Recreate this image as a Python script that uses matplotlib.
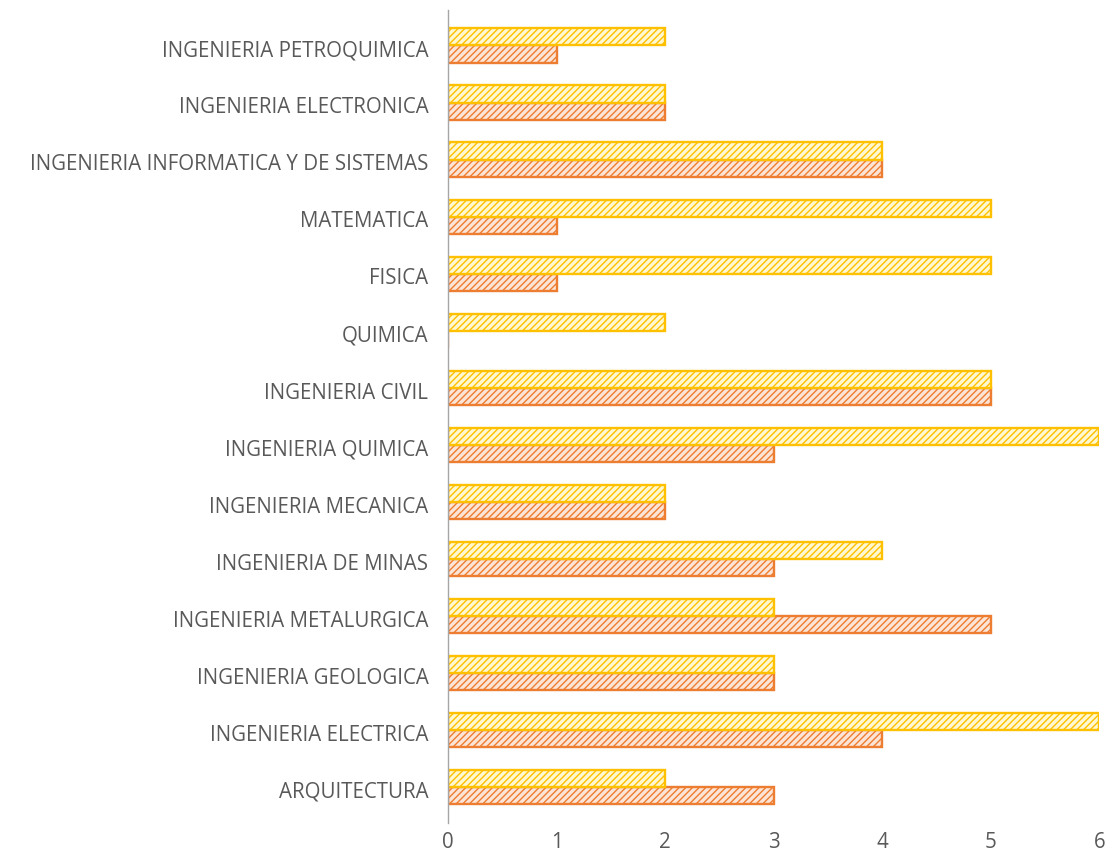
import matplotlib.pyplot as plt
import numpy as np

plt.rcParams['font.family'] = ['Open Sans', 'DejaVu Sans']

# carreras, de abajo hacia arriba
carreras = [
    "ARQUITECTURA",
    "INGENIERIA ELECTRICA",
    "INGENIERIA GEOLOGICA",
    "INGENIERIA METALURGICA",
    "INGENIERIA DE MINAS",
    "INGENIERIA MECANICA",
    "INGENIERIA QUIMICA",
    "INGENIERIA CIVIL",
    "QUIMICA",
    "FISICA",
    "MATEMATICA",
    "INGENIERIA INFORMATICA Y DE SISTEMAS",
    "INGENIERIA ELECTRONICA",
    "INGENIERIA PETROQUIMICA",
]
serie_amarilla = [2, 6, 3, 3, 4, 2, 6, 5, 2, 5, 5, 4, 2, 2]
serie_naranja = [3, 4, 3, 5, 3, 2, 3, 5, 0, 1, 1, 4, 2, 1]

GRIS = "#595959"

fig = plt.figure(figsize=(11.06, 8.54), dpi=100)
ax = fig.add_axes([0.405, 0.035, 0.589, 0.952])

y = np.arange(len(carreras))
h = 0.3

ax.barh(y - h / 2 + 0.03, serie_naranja, height=h, color="#FCE4D6",
        edgecolor="#ED7D31", hatch="/////", linewidth=1.7)
ax.barh(y + h / 2 + 0.03, serie_amarilla, height=h, color="#FFF8D0",
        edgecolor="#FFC000", hatch="/////", linewidth=1.7)

ax.set_xlim(0, 6)
ax.set_ylim(-0.6, len(carreras) - 0.35)
ax.set_xticks(range(7))
ax.set_yticks(y)
ax.set_yticklabels(carreras)
ax.tick_params(axis="both", length=0, labelsize=14.8, colors=GRIS)
ax.tick_params(axis="y", pad=14)
ax.tick_params(axis="x", pad=6)

for s in ("top", "right", "bottom"):
    ax.spines[s].set_visible(False)
ax.spines["left"].set_color("#A6A6A6")
ax.spines["left"].set_linewidth(1.0)

fig.savefig("out.png", dpi=100)
